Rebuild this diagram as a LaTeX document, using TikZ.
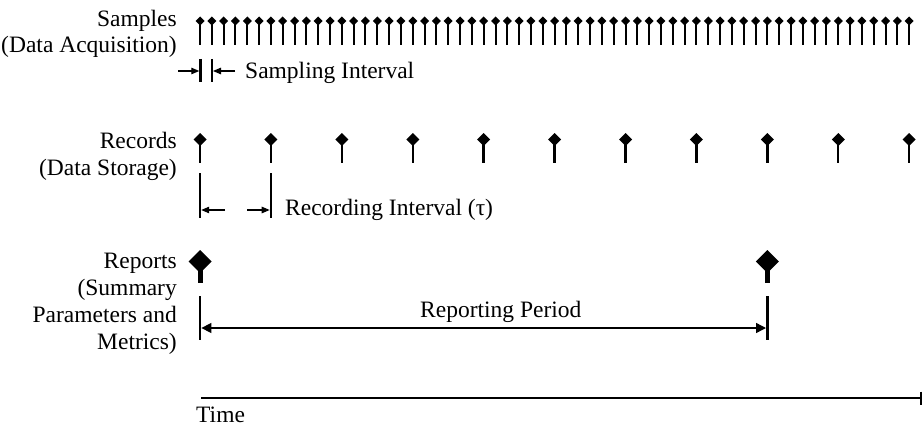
\documentclass[tikz,border=0pt]{standalone}
\usepackage{fontspec}
\setmainfont{Liberation Serif}
\usetikzlibrary{arrows.meta}
\tikzset{
    lbl/.style={align=right, anchor=base east, inner sep=0pt},
    txt/.style={anchor=base west, inner sep=0pt},
    dimarrow/.style={-{Triangle[length=8pt,width=6.5pt]}, line width=1.1pt},
    tickbar/.style={line width=2.4pt},
}
\begin{document}
\begin{tikzpicture}[x=1pt, y=-1pt, font=\fontsize{23.5}{26.7}\selectfont]
    \useasboundingbox (0,0) rectangle (924,428);
    \node[lbl] (samp) at (177,53) {Samples\\(Data Acquisition)};
    \node[lbl] (rec) at (177,175) {Records\\(Data Storage)};
    \node[lbl] (rep) at (177,349) {Reports\\(Summary\\Parameters and\\Metrics)};
    \foreach \i in {0,...,60} {
        \draw[line width=2pt] (200+11.82*\i,21) -- (200+11.82*\i,45);
        \fill (200+11.82*\i,16.5) -- ++(4.5,4.5) -- ++(-4.5,4.5) -- ++(-4.5,-4.5) -- cycle;
    }
    \foreach \i in {0,...,10} {
        \draw[line width=2.4pt] (200+70.92*\i,140) -- (200+70.92*\i,163);
        \fill (200+70.92*\i,133) -- ++(6.5,6.5) -- ++(-6.5,6.5) -- ++(-6.5,-6.5) -- cycle;
    }
    \foreach \x in {200,767.4} {
        \draw[line width=5pt] (\x,262) -- (\x,283);
        \fill (\x,250) -- ++(11.5,11.5) -- ++(-11.5,11.5) -- ++(-11.5,-11.5) -- cycle;
    }
    \draw[tickbar] (200.5,59) -- (200.5,82);
    \draw[tickbar] (211.8,59) -- (211.8,82);
    \coordinate (sl) at (178,71);
    \coordinate (sa) at (199.3,71);
    \coordinate (sb) at (213,71);
    \coordinate (sr) at (235,71);
    \draw[dimarrow] (sl) -- (sa);
    \draw[dimarrow] (sr) -- (sb);
    \node[txt] (sint) at (245,78) {Sampling Interval};
    \draw[tickbar] (200,173) -- (200,218);
    \draw[tickbar] (270.9,173) -- (270.9,218);
    \coordinate (ra) at (201.2,210);
    \coordinate (rl) at (225,210);
    \coordinate (rr) at (247,210);
    \coordinate (rb) at (269.7,210);
    \draw[dimarrow] (rl) -- (ra);
    \draw[dimarrow] (rr) -- (rb);
    \node[txt] (rint) at (285,215) {Recording Interval (τ)};
    \draw[line width=2.8pt] (200,296) -- (200,340);
    \draw[line width=2.8pt] (767.4,296) -- (767.4,340);
    \coordinate (pa) at (201.4,328);
    \coordinate (pb) at (766,328);
    \draw[{Triangle[length=10pt,width=10pt]}-{Triangle[length=10pt,width=10pt]}, line width=1.4pt] (pa) -- (pb);
    \node[txt] (rper) at (420,317) {Reporting Period};
    \coordinate (t0) at (201,398);
    \coordinate (t1) at (922,398);
    \draw[line width=2.8pt, -{Bar[width=13pt,line width=2.4pt]}] (t0) -- (t1);
    \node[txt] (time) at (196,422) {Time};
\end{tikzpicture}
\end{document}
